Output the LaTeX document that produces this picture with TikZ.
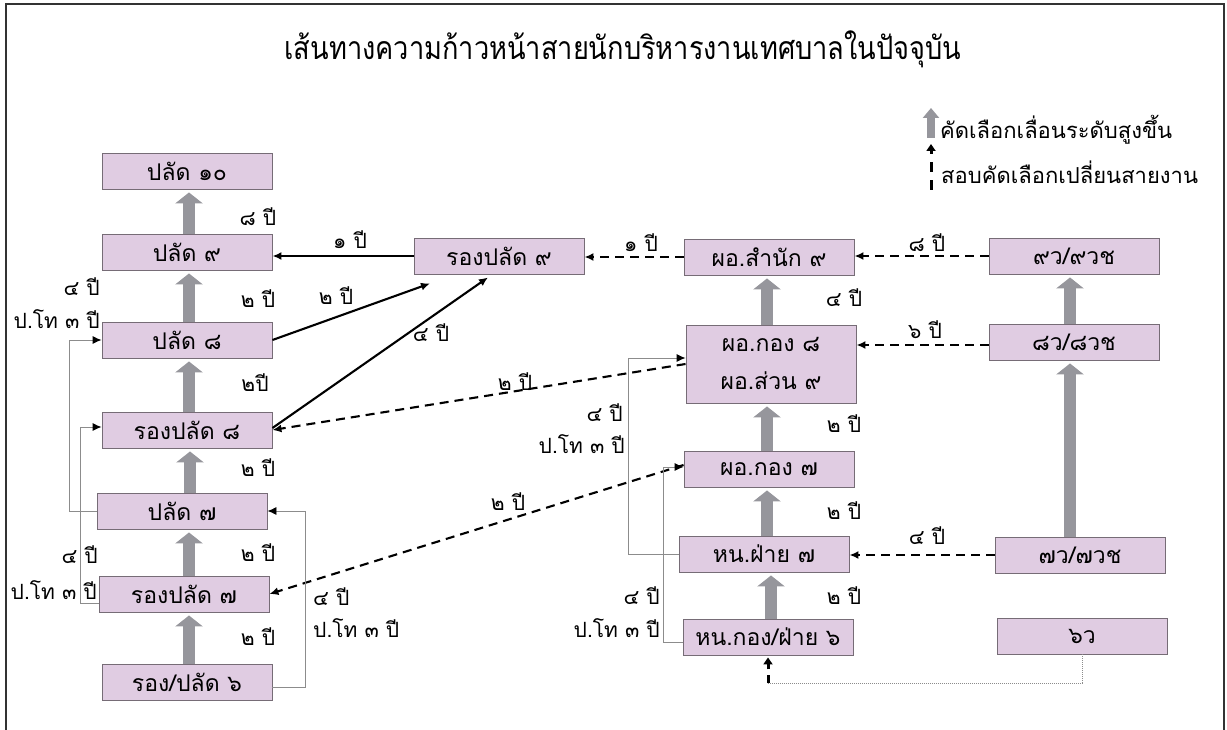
\documentclass[tikz,border=0pt]{standalone}
\usepackage{fontspec}
\newfontfamily\thai[Script=Thai]{Loma}
\newfontfamily\thaititle[Script=Thai,FakeStretch=0.85]{Loma}
\usetikzlibrary{arrows.meta}
\definecolor{boxfill}{RGB}{224,204,226}
\definecolor{boxline}{RGB}{118,108,118}
\definecolor{upgray}{RGB}{150,150,156}
\tikzset{
  post/.style={draw=boxline, fill=boxfill, line width=0.9pt, minimum width=170pt, minimum height=36pt, inner sep=0pt, font=\thai\fontsize{23}{26}\selectfont},
  yr/.style={font=\thai\fontsize{21}{24}\selectfont, inner sep=0pt},
  promote/.style={upgray, line width=12pt, -{Triangle[length=11pt,width=27pt]}, shorten >=3pt},
  move/.style={line width=2.1pt, -{Latex[length=9pt,width=8pt]}},
  switch/.style={move, dash pattern=on 9pt off 6pt},
  elbow/.style={black!45, line width=0.9pt, -{Latex[length=9pt,width=8pt,color=black]}}
}

\begin{document}
\begin{tikzpicture}[x=1pt,y=-1pt]
	%%%%% START %%%%%
	\useasboundingbox (0,0) rectangle (1227,730);
	\draw[line width=1.6pt, black!80] (6,740) -- (6,4) -- (1224,4) -- (1224,740);
	
	\node[font=\thaititle\fontsize{32}{36}\selectfont, anchor=base] (title) at (623,60) {เส้นทางความก้าวหน้าสายนักบริหารงานเทศบาลในปัจจุบัน};
	
	% legend
	\coordinate (lgA) at (931,138);
	\coordinate (lgB) at (931,190);
	\draw[upgray, line width=8pt, -{Triangle[length=10pt,width=16pt]}] (lgA) -- ++(0,-30);
	\draw[line width=3pt, dash pattern=on 10pt off 8pt, -{Triangle[length=7pt,width=9pt,color=black]}] (lgB) -- ++(0,-46);
	\node[yr, anchor=base west, font=\thai\fontsize{22}{24}\selectfont] (lg1) at (940,139) {คัดเลือกเลื่อนระดับสูงขึ้น};
	\node[yr, anchor=base west, font=\thai\fontsize{22}{24}\selectfont] (lg2) at (941,184) {สอบคัดเลือกเปลี่ยนสายงาน};
	
	% left column
	\node[post] (p10) at (187,171) {ปลัด ๑๐};
	\node[post] (p9) at (187,252) {ปลัด ๙};
	\node[post] (p8) at (187,340) {ปลัด ๘};
	\node[post] (rp8) at (187,430) {รองปลัด ๘};
	\node[post] (p7) at (182,511) {ปลัด ๗};
	\node[post] (rp7) at (184,594) {รองปลัด ๗};
	\node[post] (rp6) at (187,682) {รอง/ปลัด ๖};
	
	% middle
	\node[post] (rp9) at (499,256) {รองปลัด ๙};
	\node[post] (dir9) at (769,257) {ผอ.สำนัก ๙};
	\node[post, minimum height=78pt, align=center, font=\thai\fontsize{23}{38}\selectfont] (dir8) at (771,364) {ผอ.กอง ๘\\ผอ.ส่วน ๙};
	\node[post] (dir7) at (769,469) {ผอ.กอง ๗};
	\node[post] (head7) at (764,554) {หน.ฝ่าย ๗};
	\node[post] (head6) at (768,637) {หน.กอง/ฝ่าย ๖};
	
	% right column
	\node[post] (v9) at (1074,256) {๙ว/๙วช};
	\node[post] (v8) at (1074,342) {๘ว/๘วช};
	\node[post] (v7) at (1080,555) {๗ว/๗วช};
	\node[post] (v6) at (1082,636) {๖ว};
	
	% step up
	\draw[promote] ([xshift=2pt]rp6.north) -- ([xshift=2pt]rp7.south -| rp6.north);
	\draw[promote] ([xshift=5pt]rp7.north) -- ([xshift=5pt]p7.south -| rp7.north);
	\draw[promote] ([xshift=8pt]p7.north) -- ([xshift=8pt]rp8.south -| p7.north);
	\draw[promote] ([xshift=2pt]rp8.north) -- ([xshift=2pt]p8.south -| rp8.north);
	\draw[promote] ([xshift=2pt]p8.north) -- ([xshift=2pt]p9.south -| p8.north);
	\draw[promote] ([xshift=2pt]p9.north) -- ([xshift=2pt]p10.south -| p9.north);
	\draw[promote] ([xshift=3pt]head6.north) -- ([xshift=3pt]head7.south -| head6.north);
	\draw[promote] ([xshift=3pt]head7.north) -- ([xshift=3pt]dir7.south -| head7.north);
	\draw[promote] ([xshift=-2pt]dir7.north) -- ([xshift=-2pt]dir8.south -| dir7.north);
	\draw[promote] ([xshift=-4pt]dir8.north) -- ([xshift=-4pt]dir9.south -| dir8.north);
	\draw[promote] ([xshift=-10pt]v7.north) -- ([xshift=-10pt]v8.south -| v7.north);
	\draw[promote] ([xshift=-4pt]v8.north) -- ([xshift=-4pt]v9.south -| v8.north);
	
	\node[yr] (y1) at (258,217) {๘ ปี};
	\node[yr] (y2) at (258,299) {๒ ปี};
	\node[yr] (y3) at (255,383) {๒ปี};
	\node[yr] (y4) at (258,468) {๒ ปี};
	\node[yr] (y5) at (258,553) {๒ ปี};
	\node[yr] (y6) at (258,637) {๒ ปี};
	\node[yr] (y7) at (844,298) {๔ ปี};
	\node[yr] (y8) at (844,424) {๒ ปี};
	\node[yr] (y9) at (844,511) {๒ ปี};
	\node[yr] (y10) at (844,596) {๒ ปี};
	
	% cross moves
	\draw[move] (rp9.west) -- (rp9.west -| p9.east);
	\draw[move] (p8.east) -- ([xshift=-69pt,yshift=-9pt]rp9.south);
	\draw[move] ([yshift=2pt]rp8.east) -- ([xshift=-11pt,yshift=-3pt]rp9.south);
	\node[yr] (m1) at (350,240) {๑ ปี};
	\node[yr] (m2) at (336,296) {๒ ปี};
	\node[yr] (m3) at (431,333) {๔ ปี};
	
	\draw[switch] (dir9.west) -- (dir9.west -| rp9.east);
	\draw[switch] (v9.west) -- (v9.west -| dir9.east);
	\draw[switch] ([yshift=-3pt]v8.west) -- ([yshift=-3pt]v8.west -| dir8.east);
	\draw[switch] (v7.west) -- (v7.west -| head7.east);
	\draw[switch] (dir8.west) -- (rp8.east);
	\draw[switch] ([yshift=4pt]dir7.west) -- (rp7.east);
	\node[yr] (m4) at (641,243) {๑ ปี};
	\node[yr] (m5) at (927,243) {๘ ปี};
	\node[yr] (m6) at (925,330) {๖ ปี};
	\node[yr] (m7) at (927,536) {๔ ปี};
	\node[yr] (m8) at (515,382) {๒ ปี};
	\node[yr] (m9) at (508,502) {๒ ปี};
	
	\draw[black!45, line width=0.8pt, dash pattern=on 1pt off 1pt] (v6.south) -- ++(0,29) -| ([yshift=-28pt]head6.south);
	\draw[line width=3pt, dash pattern=on 8pt off 6pt, -{Triangle[length=7pt,width=9pt,color=black]}] ([yshift=-28pt]head6.south) -- ([yshift=-2pt]head6.south);
	
	% exam paths
	\draw[elbow] (p7.west) -- ++(-27,0) |- (p8.west);
	\draw[elbow] ([yshift=-9pt]rp7.west) -- ++(-18,0) |- ([yshift=3pt]rp8.west);
	\draw[elbow] ([yshift=-5pt]rp6.east) -- ++(33,0) |- (p7.east);
	\draw[elbow] (head7.west) -- ++(-50,0) |- ([yshift=6pt]dir8.west);
	\draw[elbow] ([yshift=-5pt]head6.west) -- ++(-19,0) |- ([yshift=2pt]dir7.west);
	
	\node[yr, anchor=east] (e1) at (100,287) {๔ ปี};
	\node[yr, anchor=east] (e2) at (100,319) {ป.โท ๓ ปี};
	\node[yr, anchor=east] (e3) at (98,555) {๔ ปี};
	\node[yr, anchor=east] (e4) at (97,590) {ป.โท ๓ ปี};
	\node[yr, anchor=west] (e5) at (313,597) {๔ ปี};
	\node[yr, anchor=west] (e6) at (313,628) {ป.โท ๓ ปี};
	\node[yr, anchor=east] (e7) at (623,413) {๔ ปี};
	\node[yr, anchor=east] (e8) at (625,444) {ป.โท ๓ ปี};
	\node[yr, anchor=east] (e9) at (660,596) {๔ ปี};
	\node[yr, anchor=east] (e10) at (660,628) {ป.โท ๓ ปี};
	%%%%% END %%%%%
\end{tikzpicture}
\end{document}
